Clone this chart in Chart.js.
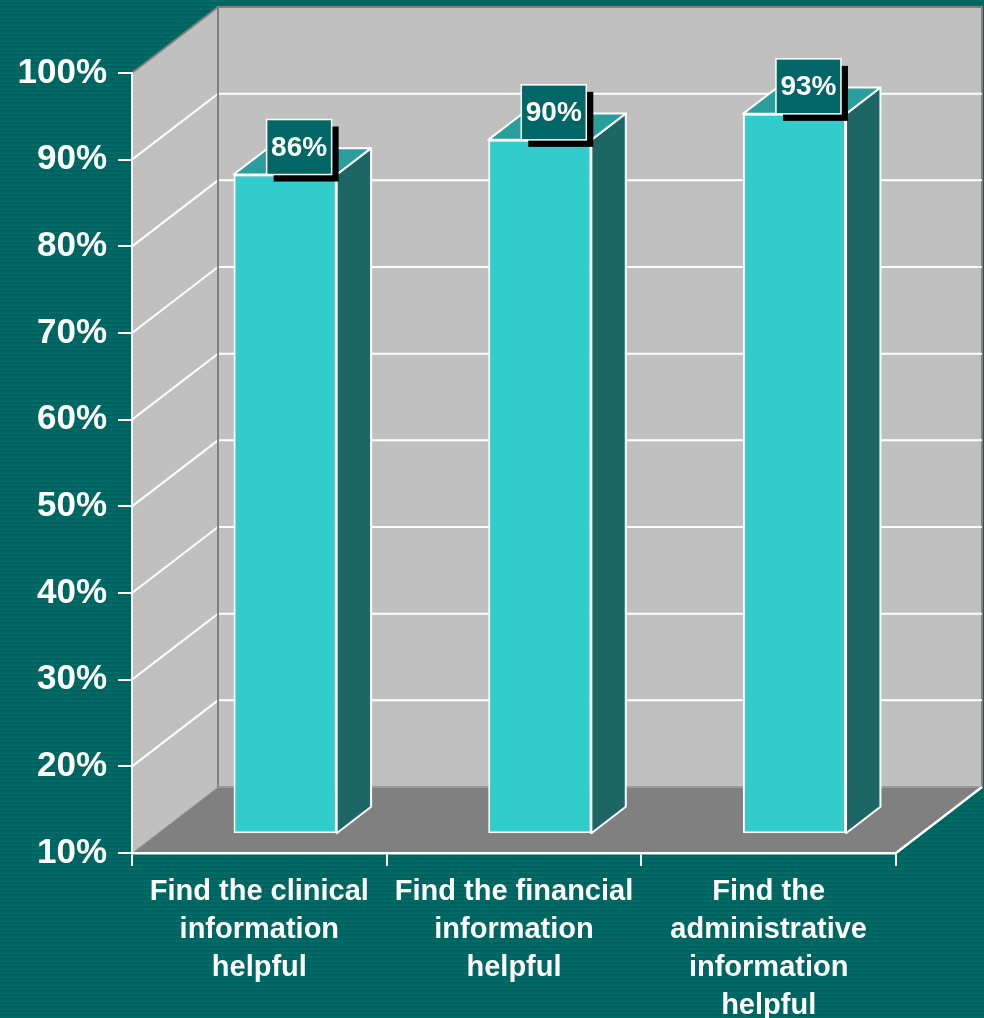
<!DOCTYPE html>
<html>
<head>
<meta charset="utf-8">
<script src="https://cdn.jsdelivr.net/npm/chart.js@4"></script>
<style>
  html, body { margin: 0; padding: 0; }
  body {
    width: 984px; height: 1018px; overflow: hidden;
    background: repeating-linear-gradient(to bottom, #006a66 0px, #006a66 2px, #00625f 2px, #00625f 4px);
  }
  canvas { display: block; }
</style>
</head>
<body>
<canvas id="grafico" width="984" height="1018"></canvas>
<script>
// Dados do gráfico
const categorias = [
    ["Find the clinical", "information", "helpful"],
    ["Find the financial", "information", "helpful"],
    ["Find the", "administrative", "information", "helpful"]
];
const valores = [86, 90, 93];
const yMin = 10;
const yMax = 100;
const yPasso = 10;

// Profundidade do "3D"
const DX = 86, DY = 66;          // profundidade das paredes
const BAR_FRENTE = 0.3;          // onde começa a barra dentro da profundidade
const BAR_FUNDO = 0.4;           // profundidade da barra

const fonte = "'Liberation Sans', Arial, sans-serif";

const plugin3D = {
    id: "plugin3D",
    beforeDraw(chart) {
        const ctx = chart.ctx;
        const { left, right, top, bottom } = chart.chartArea;
        const y = chart.scales.y;
        ctx.save();
        // parede esquerda
        ctx.fillStyle = "#c0c0c0";
        ctx.beginPath();
        ctx.moveTo(left, top);
        ctx.lineTo(left + DX, top - DY);
        ctx.lineTo(left + DX, bottom - DY);
        ctx.lineTo(left, bottom);
        ctx.closePath();
        ctx.fill();
        // parede do fundo
        ctx.fillRect(left + DX, top - DY, right - left, bottom - top);
        ctx.strokeStyle = "#808080";
        ctx.lineWidth = 2;
        ctx.strokeRect(left + DX, top - DY, right - left, bottom - top);
        // piso
        ctx.fillStyle = "#808080";
        ctx.beginPath();
        ctx.moveTo(left, bottom);
        ctx.lineTo(left + DX, bottom - DY);
        ctx.lineTo(right + DX, bottom - DY);
        ctx.lineTo(right, bottom);
        ctx.closePath();
        ctx.fill();
        ctx.strokeStyle = "#999999";
        ctx.beginPath();
        ctx.moveTo(left + DX, bottom - DY);
        ctx.lineTo(right + DX, bottom - DY);
        ctx.stroke();
        // linhas de grade
        for (let v = yMin; v <= yMax; v += yPasso) {
            const py = y.getPixelForValue(v);
            if (v === yMax) {
                ctx.strokeStyle = "#808080";
                ctx.beginPath();
                ctx.moveTo(left, py);
                ctx.lineTo(left + DX, py - DY);
                ctx.stroke();
                continue;
            }
            if (v === yMin) {
                ctx.strokeStyle = "#b0b0b0";
                ctx.lineWidth = 1;
                ctx.beginPath();
                ctx.moveTo(left, py);
                ctx.lineTo(left + DX, py - DY);
                ctx.stroke();
                ctx.lineWidth = 2;
                continue;
            }
            ctx.strokeStyle = "#ffffff";
            ctx.beginPath();
            ctx.moveTo(left, py);
            ctx.lineTo(left + DX, py - DY);
            ctx.lineTo(right + DX, py - DY);
            ctx.stroke();
        }
        // borda esquerda da parede do fundo
        ctx.strokeStyle = "#808080";
        ctx.beginPath();
        ctx.moveTo(left + DX, top - DY);
        ctx.lineTo(left + DX, bottom - DY);
        ctx.stroke();
        // borda direita do piso
        ctx.strokeStyle = "#ffffff";
        ctx.lineWidth = 2.5;
        ctx.beginPath();
        ctx.moveTo(right, bottom);
        ctx.lineTo(right + DX, bottom - DY);
        ctx.stroke();
        ctx.restore();
    },
    beforeDatasetsDraw(chart) {
        chart.ctx.save();
        chart.ctx.translate(DX * BAR_FRENTE, -DY * BAR_FRENTE);
    },
    afterDatasetsDraw(chart) {
        const ctx = chart.ctx;
        const meta = chart.getDatasetMeta(0);
        const bx = DX * BAR_FUNDO, by = DY * BAR_FUNDO;
        // faces lateral e de cima (ainda transladado)
        meta.data.forEach((bar) => {
            const p = bar.getProps(["x", "y", "base", "width"], true);
            const esq = p.x - p.width / 2, dir = p.x + p.width / 2;
            const base = Math.min(p.base, chart.chartArea.bottom);
            ctx.lineWidth = 2;
            ctx.strokeStyle = "#ffffff";
            ctx.lineJoin = "round";
            ctx.fillStyle = "#1c6666";
            ctx.beginPath();
            ctx.moveTo(dir, p.y);
            ctx.lineTo(dir + bx, p.y - by);
            ctx.lineTo(dir + bx, base - by);
            ctx.lineTo(dir, base);
            ctx.closePath();
            ctx.fill();
            ctx.stroke();
            ctx.fillStyle = "#2a9d9d";
            ctx.beginPath();
            ctx.moveTo(esq, p.y);
            ctx.lineTo(esq + bx, p.y - by);
            ctx.lineTo(dir + bx, p.y - by);
            ctx.lineTo(dir, p.y);
            ctx.closePath();
            ctx.fill();
            ctx.stroke();
        });
        ctx.restore();

        // rótulos dos valores
        const ox = DX * BAR_FRENTE, oy = -DY * BAR_FRENTE;
        meta.data.forEach((bar, i) => {
            const p = bar.getProps(["x", "y"], true);
            const w = 65, h = 55;
            const cx = p.x + ox + 14;
            const bxl = cx - w / 2;
            const byt = p.y + oy - h;
            ctx.save();
            ctx.fillStyle = "#000000";
            ctx.fillRect(bxl + 7, byt + 7, w, h);
            ctx.fillStyle = "#006666";
            ctx.fillRect(bxl, byt, w, h);
            ctx.strokeStyle = "#ffffff";
            ctx.lineWidth = 1.5;
            ctx.strokeRect(bxl, byt, w, h);
            ctx.fillStyle = "#ffffff";
            ctx.font = "bold 28px " + fonte;
            ctx.textAlign = "center";
            ctx.textBaseline = "middle";
            ctx.fillText(valores[i] + "%", cx, byt + h / 2 + 1);
            ctx.restore();
        });
    }
};

const ctx = document.getElementById("grafico").getContext("2d");
const grafico = new Chart(ctx, {
    type: "bar",
    data: {
        labels: categorias,
        datasets: [{
            // barras flutuantes a partir do mínimo do eixo
            data: valores.map((v) => [yMin, v]),
            backgroundColor: "#33cccc",
            borderColor: "#ffffff",
            borderWidth: 2,
            borderSkipped: false,
            barPercentage: 0.405,
            categoryPercentage: 1
        }]
    },
    options: {
        responsive: false,
        animation: false,
        devicePixelRatio: 1,
        layout: {
            padding: { left: 0, right: 88, top: 73, bottom: 0 }
        },
        plugins: {
            legend: { display: false },
            tooltip: { enabled: false }
        },
        scales: {
            x: {
                grid: {
                    drawOnChartArea: false,
                    drawTicks: true,
                    tickLength: 13,
                    color: "#ffffff",
                    lineWidth: 2
                },
                border: { color: "#ffffff", width: 2.5 },
                ticks: {
                    color: "#ffffff",
                    padding: 7,
                    maxRotation: 0,
                    autoSkip: false,
                    font: { family: fonte, size: 29, weight: "bold", lineHeight: 1.31 }
                },
                afterFit: (s) => { s.height = 165; }
            },
            y: {
                min: yMin,
                max: yMax,
                grid: {
                    drawOnChartArea: false,
                    drawTicks: true,
                    tickLength: 14,
                    color: "#ffffff",
                    lineWidth: 2
                },
                border: { color: "#ffffff", width: 2 },
                ticks: {
                    stepSize: yPasso,
                    color: "#ffffff",
                    padding: 11,
                    font: { family: fonte, size: 35, weight: "bold" },
                    callback: (v) => v + "%"
                },
                afterFit: (s) => { s.width = 132; }
            }
        }
    },
    plugins: [plugin3D]
});
</script>
</body>
</html>
